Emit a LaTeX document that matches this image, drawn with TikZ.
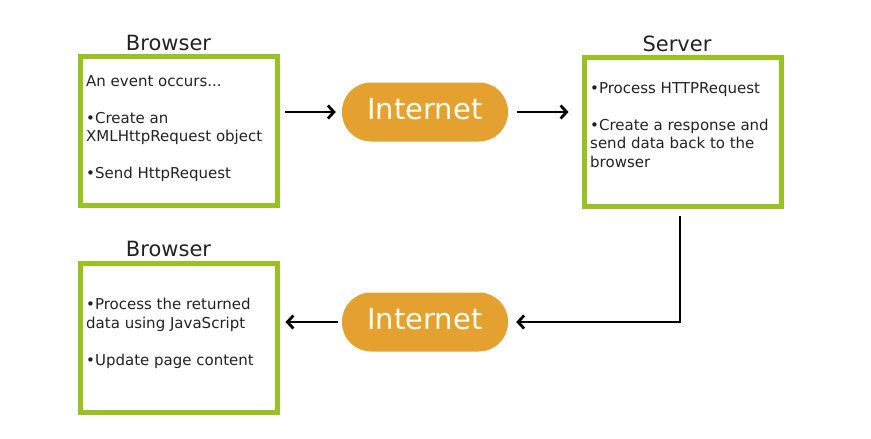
\documentclass[tikz,border=0pt]{standalone}
\usepackage{fontspec}
\setmainfont{DejaVu Sans}
\usetikzlibrary{arrows.meta}
\definecolor{boxgreen}{RGB}{153,194,33}
\definecolor{netorange}{RGB}{229,161,47}
\definecolor{txtgray}{RGB}{34,34,34}
\begin{document}
\begin{tikzpicture}[x=1pt,y=-1pt,
    panel/.style={draw=boxgreen,line width=5pt,fill=white,
      minimum width=197pt,minimum height=149pt,inner sep=0pt},
    panetitle/.style={anchor=base,text=txtgray,font=\fontsize{21}{24}\selectfont},
    panetext/.style={anchor=base west,align=left,inner sep=0pt,text=txtgray,
      font=\fontsize{15}{18.5}\selectfont},
    net/.style={fill=netorange,rounded corners=29pt,minimum width=166pt,
      minimum height=59pt,text=white!95!yellow,text height=21pt,text depth=6pt,
      font=\fontsize{29}{32}\selectfont},
    link/.style={line width=2.8pt,-{Straight Barb[length=6pt,width=13pt]}}]
  \useasboundingbox (0,0) rectangle (871,439);

  % the three boxes
  \node[panel] (browser1) at (178.5,131) {};
  \node[panel] (server) at (682.5,131.5) {};
  \node[panel] (browser2) at (178.5,337.5) {};

  \node[panetitle] (title1) at (168.5,50) {Browser};
  \node[panetitle] (title2) at (677,51) {Server};
  \node[panetitle] (title3) at (168.5,256.5) {Browser};

  % texts sit on the baseline of their last line
  \node[panetext] (text1) at (86,178.5) {An event occurs...\\[18.5pt]
    •Create an\\XMLHttpRequest object\\[18.5pt]
    •Send HttpRequest};
  \node[panetext] (text2) at (590,167) {•Process HTTPRequest\\[18.5pt]
    •Create a response and\\send data back to the\\browser};
  \node[panetext] (text3) at (86,365) {•Process the returned\\
    data using JavaScript\\[18.5pt]
    •Update page content};

  % internet
  \node[net] (net1) at (425,112) {Internet};
  \node[net] (net2) at (425,322) {Internet};

  \begin{scope}[link]
    \draw[shorten <=5pt,shorten >=6pt] (browser1.east |- net1) -- (net1);
    \draw[shorten <=9pt,shorten >=13pt] (net1) -- (net1 -| server.west);
    \draw[shorten <=7pt,shorten >=8pt] ([xshift=-2.5pt]server.south) |- (net2);
    \draw[shorten <=4pt,shorten >=6pt] (net2) -- (net2 -| browser2.east);
  \end{scope}
\end{tikzpicture}
\end{document}
